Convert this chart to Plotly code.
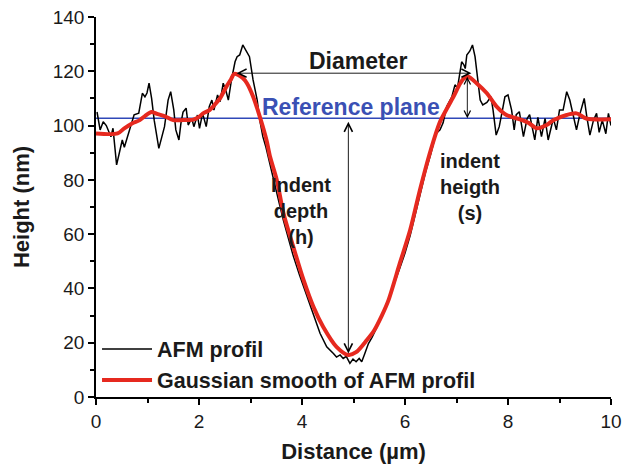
import plotly.graph_objects as go

# ---- data ----
afm_x = [0.02, 0.08, 0.14, 0.2, 0.29, 0.33, 0.40, 0.47, 0.51, 0.55, 0.61, 0.67, 0.74, 0.83, 0.9, 0.95,
         0.99, 1.03, 1.08, 1.13, 1.22, 1.33, 1.40, 1.45, 1.51, 1.55, 1.61, 1.65, 1.69, 1.75, 1.79, 1.86,
         1.90, 1.97, 2.01, 2.07, 2.14, 2.2, 2.25, 2.29, 2.36, 2.41, 2.47, 2.52, 2.57, 2.63, 2.70, 2.74,
         2.79, 2.85, 2.91, 2.98, 3.05, 3.13, 3.18, 3.24, 3.30, 3.36, 3.45, 3.55, 3.64, 3.75, 3.83, 3.95,
         4.03, 4.15, 4.22, 4.35, 4.48, 4.61, 4.67, 4.74, 4.8, 4.86, 4.93, 4.99, 5.05, 5.11, 5.16, 5.22,
         5.29, 5.36, 5.45, 5.58, 5.7, 5.9, 6.0, 6.1, 6.2, 6.29, 6.4, 6.5, 6.6, 6.68, 6.74, 6.81, 6.91,
         6.97, 7.02, 7.1, 7.14, 7.17, 7.2, 7.26, 7.31, 7.36, 7.4, 7.46, 7.51, 7.59, 7.67, 7.71, 7.77,
         7.83, 7.89, 7.94, 8.0, 8.07, 8.12, 8.16, 8.22, 8.27, 8.3, 8.37, 8.42, 8.52, 8.58, 8.65, 8.72,
         8.78, 8.88, 8.94, 9.0, 9.07, 9.14, 9.2, 9.27, 9.33, 9.4, 9.48, 9.53, 9.59, 9.66, 9.72, 9.77,
         9.83, 9.9, 9.95, 10.0]
afm_y = [105, 98.4, 101.4, 100, 95.9, 99, 85.5, 91, 94.7, 92, 96, 99.6, 104, 104.6, 111.9, 110.6,
         112, 115.6, 110, 102, 91.6, 99.6, 109.4, 112.5, 105.8, 98.4, 94.7, 101, 105, 106.4, 100.2, 102.7,
         99.6, 103.9, 99, 104.5, 99.6, 107, 109.4, 105.7, 111.3, 108.8, 115.6, 113, 109.4, 116.8, 123.5, 125.4,
         126, 129.7, 127.9, 125.4, 116.8, 109.4, 102, 95.9, 92, 87, 80, 72, 65, 57, 52, 45,
         40.5, 34, 30.5, 23.5, 18.5, 16, 14.7, 15.5, 14.2, 15, 12.4, 14, 13, 14.2, 13, 16,
         19.7, 22, 25.5, 31.5, 37, 47.5, 53, 59.5, 67.5, 74.5, 83, 89.5, 97, 98.4, 101, 107, 110.6,
         115, 114, 123.5, 122.5, 121, 126, 127.5, 129.7, 125.4, 118, 109.4, 107.6, 108.5, 110.6, 105.7, 96.5,
         99.6, 105.5, 110.6, 111.3, 105.7, 98.4, 104, 105.1, 98.4, 95.9, 102.5, 104, 94.7, 103, 95.9, 102.6,
         94.7, 102.6, 98.4, 105.7, 105.7, 112.5, 109.4, 103.3, 98.4, 104.5, 110, 103.3, 96.5, 102, 104.5, 97.5,
         102, 97, 104.5, 100]

smooth_x = [0.0, 0.42, 0.55, 0.7, 0.85, 0.95, 1.08, 1.2, 1.33, 1.5, 1.65, 1.89, 2.0, 2.08, 2.21, 2.32,
            2.41, 2.54, 2.62, 2.68, 2.75, 2.85, 2.93, 3.05, 3.18, 3.31, 3.38, 3.51, 3.64, 3.83, 4.03,
            4.22, 4.41, 4.67, 4.9, 5.05, 5.26, 5.4, 5.55, 5.68, 5.9, 6.10, 6.29, 6.5, 6.68, 6.78, 6.94,
            7.07, 7.15, 7.23, 7.39, 7.59, 7.78, 7.97, 8.23, 8.4, 8.56, 8.75, 8.88, 9.14, 9.33, 9.52, 10.0]
smooth_y = [97.1, 97.1, 99, 100.8, 102, 103.5, 105, 104.2, 103.5, 102, 102, 102.2, 103.2, 104.5, 105.8, 108,
            110.1, 114.6, 117, 119, 118.8, 117.5, 115.6, 110.7, 103.3, 94.7, 88.5, 80, 67.7, 55.4, 43.1,
            33.3, 25.9, 18.5, 15.5, 16.5, 21, 24.5, 30, 35.7, 49.3, 61.5, 76.3, 91, 101.4, 105.1, 110.6,
            115.5, 117.5, 118, 115.6, 111.9, 107, 103.9, 102.3, 101, 99, 100.2, 102, 103.9, 104.5, 102.6, 102.3]

reference_plane = 102.7
diameter_x = [2.70, 7.29]
diameter_y = 119.3
depth_x = 4.9
depth_y = [101.4, 15.5]
height_x = 7.21
height_y = [118.0, 102.1]

x_ticks = [0, 2, 4, 6, 8, 10]
y_ticks = [0, 20, 40, 60, 80, 100, 120, 140]

FONT = "Liberation Sans"
RED = "#e6291f"
BLUE = "#3048b8"

fig = go.Figure()

fig.add_trace(go.Scatter(x=[0, 10], y=[reference_plane, reference_plane], mode="lines",
                         line=dict(color=BLUE, width=1.5), showlegend=False, hoverinfo="skip"))
fig.add_trace(go.Scatter(x=afm_x, y=afm_y, mode="lines", name="AFM profil",
                         line=dict(color="black", width=1.5)))
fig.add_trace(go.Scatter(x=smooth_x, y=smooth_y, mode="lines", name="Gaussian smooth of AFM profil",
                         line=dict(color=RED, width=4, shape="spline", smoothing=0.8)))

arrow_common = dict(showarrow=True, arrowhead=5, startarrowhead=5, arrowsize=1.8, startarrowsize=1.8,
                    arrowwidth=0.9, arrowcolor="black", axref="x", ayref="y", text="",
                    arrowside="end+start")
fig.add_annotation(x=diameter_x[1], y=diameter_y, ax=diameter_x[0], ay=diameter_y, **arrow_common)
fig.add_annotation(x=depth_x, y=depth_y[0], ax=depth_x, ay=depth_y[1], **arrow_common)
fig.add_annotation(x=height_x, y=height_y[0], ax=height_x, ay=height_y[1],
                   **{**arrow_common, "arrowsize": 1.4, "startarrowsize": 1.4})

bold = dict(family=FONT, size=23, color="#1a1a1a", weight="bold")
fig.add_annotation(x=5.08, y=123.8, text="Diameter", showarrow=False, font=bold)
fig.add_annotation(x=4.95, y=107.0, text="Reference plane", showarrow=False,
                   font=dict(family=FONT, size=23, color="#3a50b4", weight="bold"))
fig.add_annotation(x=3.99, y=68.5, text="Indent<br>depth<br>(h)", showarrow=False,
                   font=dict(family=FONT, size=20, color="#1a1a1a", weight="bold"))
fig.add_annotation(x=7.26, y=77.4, text="indent<br>heigth<br>(s)", showarrow=False,
                   font=dict(family=FONT, size=20, color="#1a1a1a", weight="bold"))

axis_common = dict(showline=True, linecolor="black", linewidth=1.5, showgrid=False, zeroline=False,
                   ticks="outside", tickcolor="black", tickwidth=1.5, ticklen=6, automargin=False,
                   tickfont=dict(family=FONT, size=19, color="#1a1a1a"))

fig.update_layout(
    width=624, height=469,
    margin=dict(l=96, r=13, t=17, b=72, autoexpand=False),
    paper_bgcolor="white", plot_bgcolor="white",
    showlegend=True,
    legend=dict(x=0.002, y=0.18, xanchor="left", yanchor="top", bgcolor="rgba(0,0,0,0)",
                font=dict(family=FONT, size=21.5, color="#1a1a1a", weight="bold"),
                tracegroupgap=0, itemwidth=50),
    xaxis=dict(range=[0, 10], tickvals=x_ticks, ticktext=[str(v) for v in x_ticks],
               minor=dict(dtick=1, ticks="outside", ticklen=4, tickwidth=1.5, tickcolor="black"),
               title=dict(text="Distance (µm)", font=dict(family=FONT, size=22, color="#1a1a1a", weight="bold"),
                          standoff=13),
               **axis_common),
    yaxis=dict(range=[0, 140], tickvals=y_ticks, ticktext=[str(v) for v in y_ticks],
               minor=dict(dtick=10, ticks="outside", ticklen=4, tickwidth=1.5, tickcolor="black"),
               title=dict(text="Height (nm)", font=dict(family=FONT, size=22, color="#1a1a1a", weight="bold"),
                          standoff=17),
               **axis_common),
    xaxis2=dict(range=[0, 10], overlaying="x", side="top", showline=True, linecolor="black", linewidth=1.5,
                ticks="inside", tickvals=x_ticks, ticklen=6, tickwidth=1.5, tickcolor="black", automargin=False,
                minor=dict(dtick=1, ticks="inside", ticklen=4, tickwidth=1.5, tickcolor="black"),
                showticklabels=False, showgrid=False, zeroline=False),
    yaxis2=dict(range=[0, 140], overlaying="y", side="right", showline=True, linecolor="black", linewidth=1.5,
                ticks="inside", tickvals=y_ticks, ticklen=6, tickwidth=1.5, tickcolor="black", automargin=False,
                minor=dict(dtick=10, ticks="inside", ticklen=4, tickwidth=1.5, tickcolor="black"),
                showticklabels=False, showgrid=False, zeroline=False),
)

# remove the browser's default 8px page margin so the 624x469 figure fills the window exactly
fig.write_html("out.html", config={"displayModeBar": False},
               post_script="document.body.style.margin='0px';")
